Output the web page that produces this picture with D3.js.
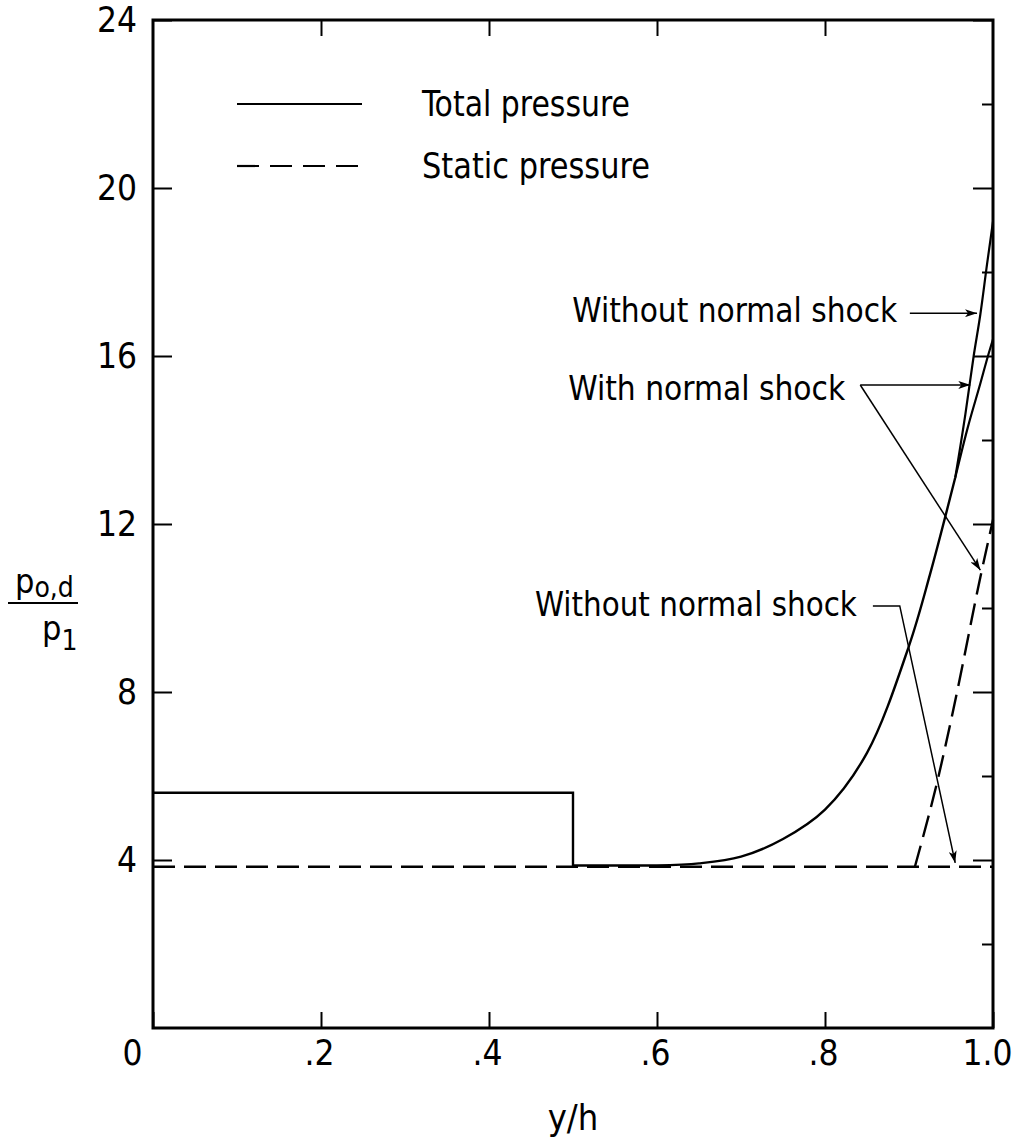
<!DOCTYPE html>
<html>
<head>
<meta charset="utf-8">
<script src="https://cdn.jsdelivr.net/npm/d3@7"></script>
<style>
  html, body { margin: 0; padding: 0; background: #fff; }
  svg text { font-family: "Liberation Sans Narrow", "DejaVu Sans Condensed", "Roboto Condensed", "Liberation Sans", sans-serif; fill: #000; }
</style>
</head>
<body>
<svg id="chart" width="1015" height="1139"></svg>
<script>
/* Pressure ratio p_o,d / p_1 across the channel height y/h.
   Values. */

// ---------- data ----------
const X_TICKS = [0, 0.2, 0.4, 0.6, 0.8, 1.0];
const X_LABELS = ["0", ".2", ".4", ".6", ".8", "1.0"];
const Y_MAJOR = [4, 8, 12, 16, 20, 24];
const Y_MINOR = [2, 6, 10, 14, 18, 22];

// total pressure: step at y/h = .5 ...
const totalStep = [[0, 5.6], [0.5, 5.6], [0.5, 3.87], [0.6, 3.87]];
// ... then rising toward the wall (common part)
const totalRise = [
  [0.6, 3.87], [0.65, 3.92], [0.7, 4.08], [0.75, 4.5], [0.8, 5.2],
  [0.85, 6.55], [0.9, 9.1], [0.925, 10.8], [0.955, 13.1],
];
// branches near the wall
const totalNoShock = [[0.955, 13.1], [0.967, 14.6], [0.977, 16.0], [0.985, 17.0], [0.993, 18.2], [1.0, 19.2]];
const totalShock = [[0.955, 13.1], [0.97, 14.3], [0.985, 15.35], [0.994, 16.0], [1.0, 16.4]];
// static pressure
const staticNoShock = [[0, 3.84], [1.0, 3.84]];
const staticShock = [[0.907, 3.84], [0.935, 5.98], [0.957, 7.98], [0.985, 10.74], [1.0, 12.1]];

// annotation labels and leader lines (data units)
const NOTES = [
  { text: "Without normal shock", x: 0.886, y: 16.8, len: 325 },
  { text: "With normal shock", x: 0.824, y: 14.95, len: 277 },
  { text: "Without normal shock", x: 0.838, y: 9.8, len: 322 },
];
const LEADERS = [
  [[0.901, 17.02], [0.981, 17.02]],
  [[0.842, 15.31], [0.973, 15.31]],
  [[0.842, 15.31], [0.985, 10.9]],
  [[0.857, 10.05], [0.889, 10.05], [0.955, 3.93]],
];
const LEGEND = [
  { label: "Total pressure", dash: null, len: 208 },
  { label: "Static pressure", dash: "22,11", len: 228 },
];

// ---------- layout ----------
const svg = d3.select("#chart");
const L = 153, R = 993, T = 20, B = 1028;
const x = d3.scaleLinear().domain([0, 1]).range([L, R]);
const y = d3.scaleLinear().domain([0, 24]).range([B, T]);

svg.append("rect").attr("width", 1015).attr("height", 1139).attr("fill", "#fff");

// arrow head
svg.append("defs").append("marker")
  .attr("id", "arr").attr("viewBox", "0 0 12 8").attr("refX", 12).attr("refY", 4)
  .attr("markerWidth", 12).attr("markerHeight", 8).attr("markerUnits", "userSpaceOnUse")
  .attr("orient", "auto")
  .append("path").attr("d", "M0,0 L12,4 L0,8 L3,4 Z").attr("fill", "#000");

// ---------- axes ----------
const fmtX = d => X_LABELS[X_TICKS.indexOf(d)];
const gx = svg.append("g").attr("transform", `translate(0,${B})`)
  .call(d3.axisBottom(x).tickValues(X_TICKS).tickFormat(fmtX).tickSizeInner(-16).tickSizeOuter(0).tickPadding(12));
gx.selectAll("text").attr("font-size", 35)
  .attr("dx", d => d === 0 ? -21 : d === 1 ? -6 : -2);

svg.append("g").attr("transform", `translate(0,${T})`)
  .call(d3.axisTop(x).tickValues(X_TICKS.slice(1, -1)).tickFormat("").tickSizeInner(-16).tickSizeOuter(0));

const gy = svg.append("g").attr("transform", `translate(${L},0)`)
  .call(d3.axisLeft(y).tickValues(Y_MAJOR).tickSizeInner(-19).tickSizeOuter(0).tickPadding(16));
gy.selectAll("text").attr("font-size", 35);

svg.append("g").attr("transform", `translate(${R},0)`)
  .call(d3.axisRight(y).tickValues(Y_MAJOR).tickFormat("").tickSizeInner(-20).tickSizeOuter(0));
svg.append("g").attr("transform", `translate(${R},0)`)
  .call(d3.axisRight(y).tickValues(Y_MINOR).tickFormat("").tickSizeInner(-11).tickSizeOuter(0));

svg.selectAll(".domain").remove();
svg.selectAll(".tick line").attr("stroke", "#000").attr("stroke-width", 2);

svg.append("rect").attr("x", L).attr("y", T).attr("width", R - L).attr("height", B - T)
  .attr("fill", "none").attr("stroke", "#000").attr("stroke-width", 3);

// axis titles
svg.append("text").attr("x", x(0.5)).attr("y", 1130).attr("text-anchor", "middle")
  .attr("font-size", 36).text("y/h");

const yl = svg.append("g");
const num = yl.append("text").attr("x", 15).attr("y", 593).attr("font-size", 34);
num.append("tspan").text("p");
num.append("tspan").attr("font-size", 28).attr("dy", 4).text("o,d");
yl.append("line").attr("x1", 8).attr("x2", 78).attr("y1", 603).attr("y2", 603)
  .attr("stroke", "#000").attr("stroke-width", 2);
const den = yl.append("text").attr("x", 42).attr("y", 640).attr("font-size", 34);
den.append("tspan").text("p");
den.append("tspan").attr("font-size", 28).attr("dy", 10).text("1");

// ---------- curves ----------
const line = d3.line().x(d => x(d[0])).y(d => y(d[1])).curve(d3.curveMonotoneX);
const smooth = d3.line().x(d => x(d[0])).y(d => y(d[1])).curve(d3.curveCatmullRom.alpha(0.5));
const lineStep = d3.line().x(d => x(d[0])).y(d => y(d[1]));

svg.append("path").attr("d", lineStep(totalStep) + smooth(totalRise).replace(/^M/, "L"))
  .attr("fill", "none").attr("stroke", "#000").attr("stroke-width", 2.4);
[totalNoShock, totalShock].forEach(s =>
  svg.append("path").attr("d", line(s)).attr("fill", "none").attr("stroke", "#000").attr("stroke-width", 2.2));
[staticNoShock, staticShock].forEach(s =>
  svg.append("path").attr("d", line(s)).attr("fill", "none").attr("stroke", "#000")
    .attr("stroke-width", 2.4).attr("stroke-dasharray", "22,9"));

// ---------- annotations ----------
NOTES.forEach(n => svg.append("text").attr("x", x(n.x)).attr("y", y(n.y))
  .attr("text-anchor", "end").attr("font-size", 33)
  .attr("textLength", n.len).attr("lengthAdjust", "spacingAndGlyphs").text(n.text));

LEADERS.forEach(p => svg.append("path").attr("d", lineStep(p))
  .attr("fill", "none").attr("stroke", "#000").attr("stroke-width", 1.5)
  .attr("marker-end", "url(#arr)"));

// ---------- legend ----------
LEGEND.forEach((d, i) => {
  const ly = 104 + i * 62;
  svg.append("line").attr("x1", 237).attr("x2", 362).attr("y1", ly).attr("y2", ly)
    .attr("stroke", "#000").attr("stroke-width", 2.2).attr("stroke-dasharray", d.dash);
  svg.append("text").attr("x", 422).attr("y", ly + 12).attr("font-size", 36)
    .attr("textLength", d.len).attr("lengthAdjust", "spacingAndGlyphs").text(d.label);
});
</script>
</body>
</html>
